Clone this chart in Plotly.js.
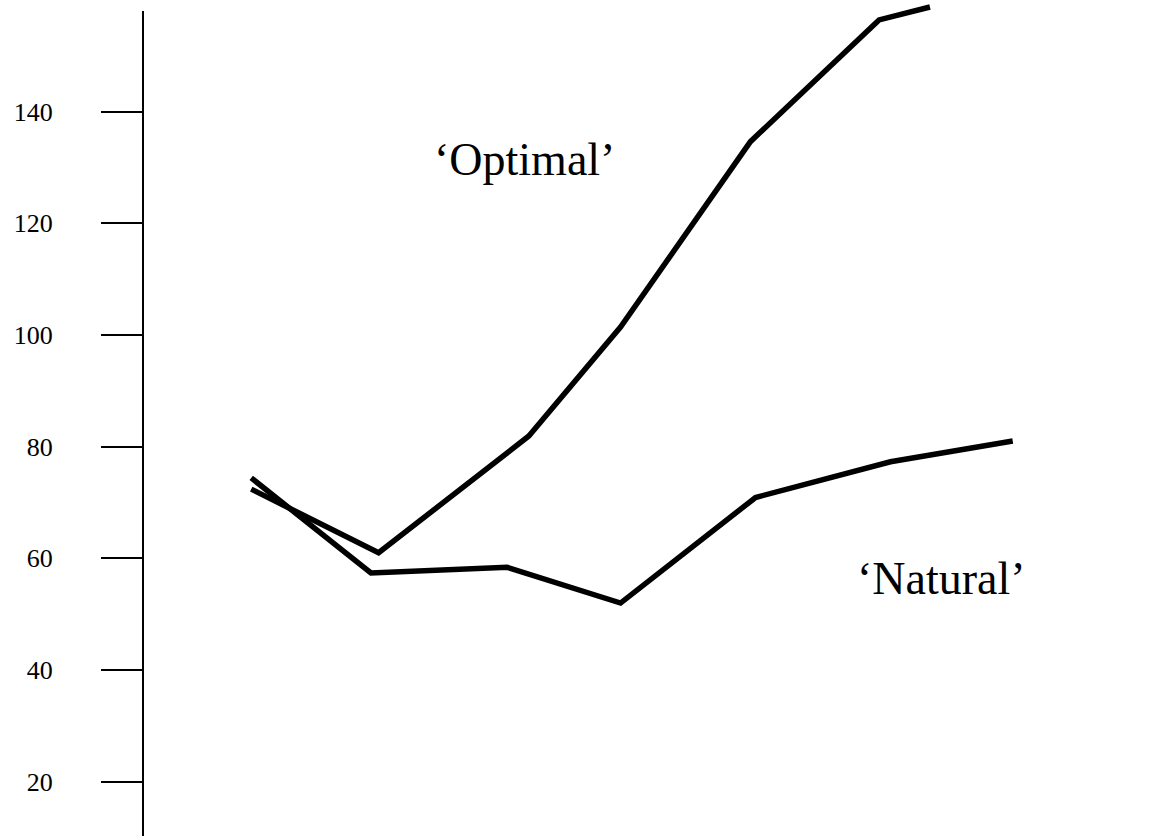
<!DOCTYPE html>
<html>
<head>
<meta charset="utf-8">
<script src="https://cdn.plot.ly/plotly-3.0.1.min.js"></script>
<style>html,body{margin:0;padding:0;background:#fff;}#chart{width:1149px;height:836px;}</style>
</head>
<body>
<div id="chart"></div>
<script>
// Series values (x = position along the unlabelled horizontal axis)
var naturalX = [1.02, 1.96, 3.03, 3.92, 4.98, 6.04, 7.00];
var naturalY = [74.4, 57.4, 58.4, 52.0, 70.9, 77.3, 81.0];
var optimalX = [1.02, 2.02, 3.20, 3.92, 4.94, 5.95, 6.35];
var optimalY = [72.4, 61.0, 81.9, 101.4, 134.6, 156.4, 158.7];
var tickValues = [20, 40, 60, 80, 100, 120, 140];
var tickLabels = ['20', '40', '60', '80', '100', '120', '140'];
var seriesLabels = ['\u2018Optimal\u2019', '\u2018Natural\u2019'];

var lineStyle = {color: '#000', width: 5.5};
var traces = [
  {x: naturalX, y: naturalY, type: 'scatter', mode: 'lines', line: lineStyle, name: seriesLabels[1], hoverinfo: 'skip'},
  {x: optimalX, y: optimalY, type: 'scatter', mode: 'lines', line: lineStyle, name: seriesLabels[0], hoverinfo: 'skip'}
];

var serif = 'Liberation Serif, Times New Roman, serif';
var layout = {
  width: 1149, height: 836,
  margin: {l: 143, r: 0, t: 0, b: 0, pad: 0},
  paper_bgcolor: '#fff', plot_bgcolor: '#fff',
  showlegend: false,
  font: {family: serif, color: '#000'},
  xaxis: {range: [0.17, 8.07], visible: false, showgrid: false, zeroline: false},
  yaxis: {
    range: [10.3, 159.96],
    showgrid: false, zeroline: false, showline: false,
    tickmode: 'array', tickvals: tickValues, ticktext: tickLabels,
    ticks: 'outside', ticklen: 41, tickwidth: 2, tickcolor: '#000',
    ticklabelstandoff: 43,
    tickfont: {family: serif, size: 26, color: '#000'}
  },
  shapes: [
    {type: 'line', xref: 'paper', yref: 'paper', x0: 0, x1: 0, y0: 0, y1: 0.9868,
     line: {color: '#000', width: 2}}
  ],
  annotations: [
    {x: 3.165, y: 131.4, xref: 'x', yref: 'y', text: seriesLabels[0], showarrow: false,
     xanchor: 'center', yanchor: 'middle',
     font: {family: serif, size: 46, color: '#000'}},
    {x: 6.44, y: 56.4, xref: 'x', yref: 'y', text: seriesLabels[1], showarrow: false,
     xanchor: 'center', yanchor: 'middle',
     font: {family: serif, size: 46, color: '#000'}}
  ]
};

Plotly.newPlot('chart', traces, layout, {displayModeBar: false, staticPlot: true});
</script>
</body>
</html>
